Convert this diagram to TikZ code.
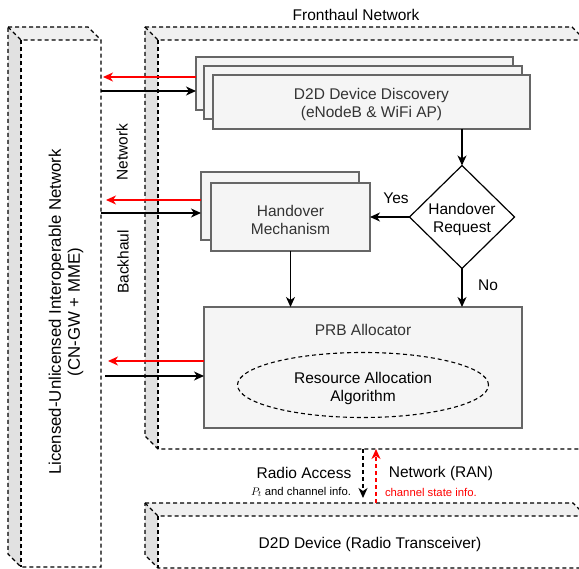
\documentclass[tikz,border=0pt]{standalone}
\usepackage{fontspec}
\setmainfont{Liberation Sans}
\usetikzlibrary{arrows.meta,shapes.geometric}

\definecolor{boxfill}{HTML}{F5F5F5}
\definecolor{boxline}{HTML}{666666}
\definecolor{boxtext}{HTML}{333333}
\definecolor{cubetop}{HTML}{F0F0F0}
\definecolor{cubeside}{HTML}{E1E1E1}
\definecolor{sigred}{HTML}{FF0000}

% dashed 3-D block: left, top, right, bottom, depth
\newcommand{\dashcube}[5]{%
  \fill[cubetop] (#1,#2) -- (#3-#5,#2) -- (#3,#2+#5) -- (#1+#5,#2+#5) -- cycle;
  \fill[cubeside] (#1,#2) -- (#1+#5,#2+#5) -- (#1+#5,#4) -- (#1,#4-#5) -- cycle;
  \fill[white] (#1+#5,#2+#5) rectangle (#3,#4);
  \draw[cubeline] (#1,#2) -- (#3-#5,#2) -- (#3,#2+#5) -- (#3,#4) -- (#1+#5,#4) -- (#1,#4-#5) -- cycle;
  \draw[cubeline] (#1,#2) -- (#1+#5,#2+#5) -- (#3,#2+#5);
  \draw[cubeline] (#1+#5,#2+#5) -- (#1+#5,#4);
}

\tikzset{
  x=1pt, y=-1pt,
  every node/.style={font=\fontsize{15.5}{18}\selectfont, inner sep=0pt, outer sep=0pt},
  cubeline/.style={draw=black, line width=1.1pt, dash pattern=on 4pt off 3pt},
  procbox/.style={draw=boxline, fill=boxfill, line width=1.2pt},
  boxlabel/.style={text=boxtext, align=center},
  decision/.style={draw=black, fill=white, line width=1.2pt, diamond, aspect=1},
  flow/.style={line width=1.2pt, -{Stealth[length=10pt,width=9pt,inset=3pt]}},
  upflow/.style={flow, draw=sigred},
  smalltext/.style={font=\fontsize{11.3}{13}\selectfont},
}

\begin{document}
\begin{tikzpicture}
\useasboundingbox (0,0) rectangle (579,569);
\clip (0,0) rectangle (579,569);
\fill[white] (0,0) rectangle (579,569);

% network layers
\dashcube{145}{27}{585}{449}{13}
\dashcube{8}{27}{101}{567}{13}
\dashcube{145}{503}{586}{568}{13}

\node at (356,15) {Fronthaul Network};
\node[rotate=90, align=center, font=\fontsize{16.8}{19}\selectfont] at (66,312)
  {Licensed-Unlicensed Interoperable Network\\(CN-GW + MME)};
\node[rotate=90] at (122,152) {Network};
\node[rotate=90] at (123,262) {Backhaul};
\node at (370,544) {D2D Device (Radio Transceiver)};

% device discovery stack
\node[procbox, minimum width=317pt, minimum height=53pt] (disc3) at (354.5,83.5) {};
\node[procbox, minimum width=318pt, minimum height=53pt] (disc2) at (363,92.5) {};
\node[procbox, minimum width=317pt, minimum height=54pt] (disc1) at (371.5,102) {};
\node[boxlabel] (disctext) at (371.5,104.5) {D2D Device Discovery\\(eNodeB \& WiFi AP)};

% handover decision
\node[decision, minimum width=105pt, minimum height=103pt] (req) at (462,217) {};
\node[align=center] (reqtext) at (462,219.5) {Handover\\Request};

% handover mechanism stack
\node[procbox, minimum width=158pt, minimum height=68pt] (ho2) at (280,206) {};
\node[procbox, minimum width=159pt, minimum height=68pt] (ho1) at (290.5,217) {};
\node[boxlabel] (hotext) at (290.5,219.5) {Handover\\Mechanism};

% PRB allocator
\node[procbox, minimum width=318pt, minimum height=121pt] (prb) at (363,367.5) {};
\node[text=boxtext] (prbtitle) at (363,330) {PRB Allocator};
\node[draw=black, line width=1.1pt, dash pattern=on 4pt off 3pt, ellipse,
      minimum width=251pt, minimum height=65pt] (algo) at (363,385) {};
\node[align=center] (algotext) at (363,388) {Resource Allocation\\Algorithm};

% flow between blocks
\draw[flow] (disc1.south -| req.north) -- (req.north);
\draw[flow] (req.west) -- (ho1.east);
\node at (396,198) {Yes};
\draw[flow] (ho1.south) -- (ho1.south |- prb.north);
\draw[flow] (req.south) -- (req.south |- prb.north);
\node at (488,285) {No};

% backhaul links
\coordinate (bhA) at (101,91);
\coordinate (bhAr) at (103,77);
\coordinate (bhB) at (101,213);
\coordinate (bhBr) at (106,200);
\coordinate (bhC) at (105,376);
\coordinate (bhCr) at (108,361);
\draw[upflow] (disc3.west |- bhAr) -- (bhAr);
\draw[flow] (bhA) -- (bhA -| disc3.west);
\draw[upflow] (ho2.west |- bhBr) -- (bhBr);
\draw[flow] (bhB) -- (bhB -| ho2.west);
\draw[upflow] (prb.west |- bhCr) -- (bhCr);
\draw[flow] (bhC) -- (bhC -| prb.west);

% radio access links
\coordinate (ranTop) at (363,449);
\coordinate (ranBot) at (363,498);
\coordinate (ranUpS) at (376,503);
\coordinate (ranUpE) at (376,449);
\draw[flow, dash pattern=on 4pt off 3pt] (ranTop) -- (ranBot);
\draw[upflow, dash pattern=on 4pt off 3pt] (ranUpS) -- (ranUpE);
\node at (304,473) {Radio Access};
\node at (441,473) {Network (RAN)};
\node[smalltext, anchor=east] at (351,492) {$P_t$ and channel info.};
\node[smalltext, anchor=west, text=sigred] at (385,492) {channel state info.};
\end{tikzpicture}
\end{document}
